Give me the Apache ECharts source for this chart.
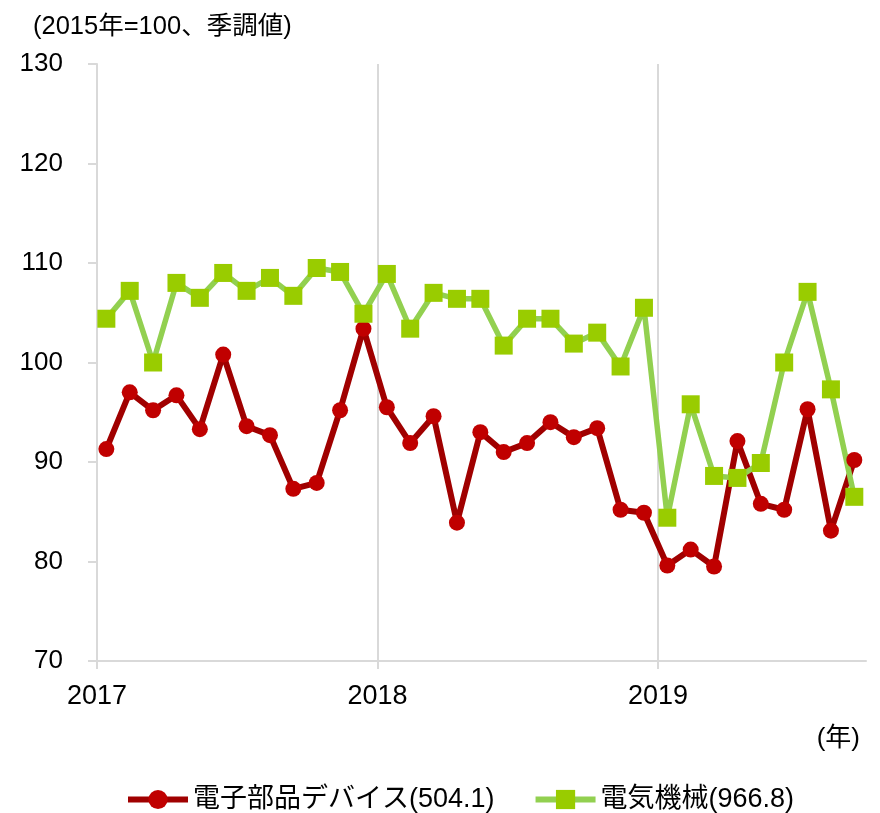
<!DOCTYPE html>
<html>
<head>
<meta charset="utf-8">
<script src="https://cdn.jsdelivr.net/npm/echarts@6.0.0/dist/echarts.min.js"></script>
<style>
html, body { margin: 0; padding: 0; background: #fff; }
#chart { width: 880px; height: 813px; }
</style>
</head>
<body>
<div id="chart"></div>
<script>
// 2017年1月〜2019年9月 (月次)
var yearLabels = ['2017', '2018', '2019'];

var denshi = [91.3, 97.0, 95.2, 96.7, 93.3, 100.8, 93.6, 92.7, 87.3, 87.9, 95.2, 103.4,
	95.5, 91.9, 94.6, 83.9, 93.0, 91.0, 91.9, 94.0, 92.5, 93.4, 85.2, 84.9,
	79.6, 81.2, 79.5, 92.1, 85.8, 85.2, 95.3, 83.1, 90.2];
var denki = [104.4, 107.2, 100.0, 108.0, 106.5, 109.0, 107.2, 108.5, 106.7, 109.5, 109.1, 104.9,
	108.9, 103.4, 107.0, 106.4, 106.4, 101.7, 104.4, 104.4, 101.9, 103.0, 99.6, 105.5,
	84.4, 95.8, 88.6, 88.4, 89.9, 100.0, 107.1, 97.3, 86.5];

var FONT = '"Liberation Sans", "Noto Sans CJK JP", sans-serif';

// 月の位置 (年の区切り 0, 12, 24 の少し右)
function toPoints(arr) {
	var out = [];
	for (var i = 0; i < arr.length; i++) {
		out.push([i + 0.4, arr[i]]);
	}
	return out;
}

var myChart = echarts.init(document.getElementById('chart'));
var option = {
	animation: false,
	textStyle: { fontFamily: FONT },
	title: [{
		text: '(2015年=100、季調値)',
		left: 28,
		top: 9,
		textStyle: { fontSize: 25.5, fontWeight: 'normal', color: '#000', fontFamily: FONT }
	}, {
		text: '(年)',
		right: 15,
		top: 721,
		textStyle: { fontSize: 26, fontWeight: 'normal', color: '#000', fontFamily: FONT }
	}],
	grid: { left: 97, right: 14, top: 64, bottom: 152 },
	legend: {
		top: 781,
		left: 120,
		itemWidth: 60,
		itemHeight: 24,
		itemGap: 38,
		lineStyle: { width: 6 },
		textStyle: { fontSize: 27, color: '#000', fontFamily: FONT },
		data: ['電子部品デバイス(504.1)', '電気機械(966.8)']
	},
	xAxis: {
		type: 'value',
		min: 0,
		max: 32.9,
		interval: 12,
		axisLine: { show: true, lineStyle: { color: '#d9d9d9', width: 2 } },
		axisTick: { show: true, length: 8, customValues: [0, 12, 24], lineStyle: { color: '#d9d9d9', width: 2 } },
		splitLine: {
			show: true,
			lineStyle: { color: ['#d9d9d9', '#d9d9d9', '#d9d9d9', 'rgba(0,0,0,0)'], width: 2 }
		},
		axisLabel: {
			margin: 22,
			fontSize: 27,
			color: '#000',
			fontFamily: FONT,
			customValues: [0, 12, 24],
			formatter: function(v) {
				return yearLabels[Math.round(v / 12)];
			}
		}
	},
	yAxis: {
		type: 'value',
		min: 70,
		max: 130,
		interval: 10,
		axisLine: { show: true, lineStyle: { color: '#d9d9d9', width: 2 } },
		axisTick: { show: true, length: 9, lineStyle: { color: '#d9d9d9', width: 2 } },
		splitLine: { show: false },
		axisLabel: { margin: 34, fontSize: 26, color: '#000', fontFamily: FONT }
	},
	series: [{
		name: '電子部品デバイス(504.1)',
		type: 'line',
		data: toPoints(denshi),
		symbol: 'circle',
		symbolSize: 16,
		lineStyle: { color: '#A00000', width: 6 },
		itemStyle: { color: '#C00000' }
	}, {
		name: '電気機械(966.8)',
		type: 'line',
		data: toPoints(denki),
		symbol: 'rect',
		symbolSize: 18,
		lineStyle: { color: '#92D050', width: 5.5 },
		itemStyle: { color: '#99CC00' }
	}]
};
myChart.setOption(option);
</script>
</body>
</html>
